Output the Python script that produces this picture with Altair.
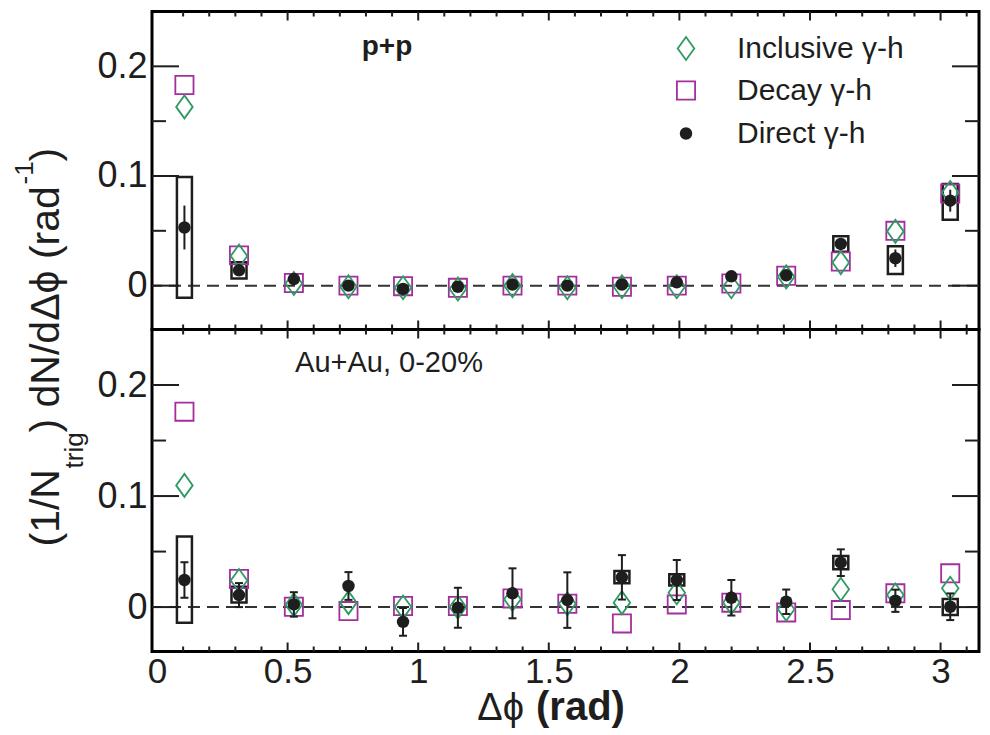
import altair as alt
import pandas as pd

# ---------------- data ----------------
dphi = [0.105, 0.314, 0.524, 0.733, 0.942, 1.152, 1.361, 1.571,
        1.780, 1.990, 2.199, 2.409, 2.618, 2.827, 3.037]

# p+p
pp_inclusive = [0.163, 0.027, 0.002, -0.001, -0.002, -0.003, 0.000, -0.002,
                -0.001, -0.001, -0.001, 0.008, 0.021, 0.0495, 0.085]
pp_decay = [0.183, 0.0276, 0.0024, 0.000, -0.0005, -0.002, 0.000, 0.000,
            -0.001, 0.000, 0.002, 0.009, 0.022, 0.050, 0.084]
pp_direct = [0.053, 0.014, 0.006, 0.000, -0.003, -0.001, 0.001, 0.000,
             0.001, 0.003, 0.0085, 0.0094, 0.038, 0.025, 0.0775]
pp_direct_err = [0.020, 0.003, 0.003, 0.003, 0.003, 0.003, 0.003, 0.003,
                 0.003, 0.003, 0.003, 0.004, 0.004, 0.008, 0.010]
pp_sys_lo = [-0.011, 0.0064, None, None, None, None, None, None,
             None, None, None, None, 0.031, 0.0106, 0.060]
pp_sys_hi = [0.099, 0.0213, None, None, None, None, None, None,
             None, None, None, None, 0.045, 0.036, 0.0926]

# Au+Au 0-20%
aa_inclusive = [0.1096, 0.024, 0.002, 0.004, 0.000, 0.000, 0.007, 0.003,
                0.004, 0.013, 0.004, -0.002, 0.016, 0.0108, 0.017]
aa_decay = [0.176, 0.0253, 0.0003, -0.0036, 0.001, 0.001, 0.0078, 0.003,
            -0.0147, 0.0024, 0.004, -0.0048, -0.0027, 0.0124, 0.0304]
aa_direct = [0.0244, 0.0108, 0.0024, 0.019, -0.0133, -0.0006, 0.0124, 0.0063,
             0.0268, 0.0244, 0.0084, 0.0048, 0.040, 0.0057, 0.0003]
aa_direct_err = [0.016, 0.0108, 0.011, 0.0125, 0.0125, 0.018, 0.0225, 0.025,
                 0.020, 0.018, 0.016, 0.011, 0.012, 0.010, 0.012]
aa_sys_lo = [-0.0142, 0.0042, None, None, None, None, None, None,
             0.0214, 0.0195, None, None, 0.034, None, -0.0072]
aa_sys_hi = [0.0635, 0.0183, None, None, None, None, None, None,
             0.0325, 0.0295, None, None, 0.046, None, 0.0072]

legend_labels = ["Inclusive γ-h", "Decay γ-h", "Direct γ-h"]
x_labels = [0, 0.5, 1, 1.5, 2, 2.5, 3]
y_labels = [0, 0.1, 0.2]
x_major_ticks = [0.5, 1.0, 1.5, 2.0, 2.5, 3.0]
x_minor_ticks = [0.1, 0.2, 0.3, 0.4, 0.6, 0.7, 0.8, 0.9, 1.1, 1.2, 1.3, 1.4,
                 1.6, 1.7, 1.8, 1.9, 2.1, 2.2, 2.3, 2.4, 2.6, 2.7, 2.8, 2.9, 3.1]
y_major_ticks = [0, 0.1, 0.2]
y_minor_ticks = [0.05, 0.15]

# ---------------- style ----------------
GREEN = "#2f9a62"
MAGENTA = "#a22f9c"
INK = "#1e1e1e"
FONT = "Liberation Sans"
DIAMOND = "M0,-1L0.72,0L0,1L-0.72,0Z"

W, H1, H2 = 827, 318, 322
XDOM = [0, 3.128]
YDOM = [-0.04, 0.25]

xs = alt.Scale(domain=XDOM, nice=False, zero=False)
ys = alt.Scale(domain=YDOM, nice=False, zero=False)

yaxis = alt.Axis(values=y_labels, format="~g", ticks=False, tickSize=0, domain=False,
                 grid=False, labelFont=FONT, labelFontSize=36, labelPadding=5,
                 labelColor=INK, title=None)
xaxis_bottom = alt.Axis(values=x_labels, format="~g", ticks=False, tickSize=0, domain=False,
                        grid=False, labelFont=FONT, labelFontSize=35, labelPadding=3,
                        labelColor=INK, labelFlush=False, title=None)


def text_layer(txt, x, y, size, angle=0, align="left", baseline="alphabetic", bold=False):
    return alt.Chart(pd.DataFrame({"t": [txt]})).mark_text(
        font=FONT, fontSize=size, angle=angle, align=align, baseline=baseline,
        fontWeight="bold" if bold else "normal", color=INK
    ).encode(x=alt.value(x), y=alt.value(y), text="t:N")


def panel(incl, decay, direct, err, sys_lo, sys_hi, H, xaxis, caps):
    X = alt.X("dphi:Q", scale=xs, axis=xaxis)

    def Y(f):
        return alt.Y(f + ":Q", scale=ys, axis=yaxis)

    df = pd.DataFrame({"dphi": dphi, "incl": incl, "decay": decay,
                       "direct": direct, "err": err})
    df["lo"] = df["direct"] - df["err"]
    df["hi"] = df["direct"] + df["err"]
    sysdf = pd.DataFrame({"dphi": dphi, "slo": sys_lo, "shi": sys_hi}).dropna()

    layers = []
    # zero line
    layers.append(alt.Chart(pd.DataFrame({"z": [0.0]})).mark_rule(
        color="#333", strokeWidth=2, strokeDash=[12, 7]).encode(y=Y("z")))
    # inner ticks, left/right
    for vals, ln in ((y_major_ticks, 27), (y_minor_ticks, 14)):
        d = pd.DataFrame({"yt": vals})
        layers.append(alt.Chart(d).mark_rule(color=INK, strokeWidth=2).encode(
            y=Y("yt"), x=alt.value(0), x2=alt.value(ln)))
        layers.append(alt.Chart(d).mark_rule(color=INK, strokeWidth=2).encode(
            y=Y("yt"), x=alt.value(W), x2=alt.value(W - ln)))
    # inner ticks, top/bottom
    for vals, ln in ((x_major_ticks, 9), (x_minor_ticks, 5)):
        d = pd.DataFrame({"dphi": vals})
        layers.append(alt.Chart(d).mark_rule(color=INK, strokeWidth=2).encode(
            x=X, y=alt.value(0), y2=alt.value(ln)))
        layers.append(alt.Chart(d).mark_rule(color=INK, strokeWidth=2).encode(
            x=X, y=alt.value(H), y2=alt.value(H - ln)))
    # systematic boxes
    layers.append(alt.Chart(sysdf).mark_bar(size=15, fill="white", fillOpacity=0,
                                            stroke=INK, strokeWidth=2.5).encode(
        x=X, y=Y("slo"), y2="shi:Q"))
    # decay squares
    layers.append(alt.Chart(df).mark_point(shape="square", size=330, filled=False,
                                           color=MAGENTA, strokeWidth=1.8, opacity=1).encode(
        x=X, y=Y("decay")))
    # inclusive diamonds
    layers.append(alt.Chart(df).mark_point(shape=DIAMOND, size=529, filled=False,
                                           color=GREEN, strokeWidth=1.8, opacity=1).encode(
        x=X, y=Y("incl")))
    # error bars
    layers.append(alt.Chart(df).mark_rule(color=INK, strokeWidth=2).encode(
        x=X, y=Y("lo"), y2="hi:Q"))
    if caps:
        for f in ("lo", "hi"):
            layers.append(alt.Chart(df).mark_tick(orient="horizontal", size=8, thickness=2,
                                                  color=INK, opacity=1).encode(x=X, y=Y(f)))
    # direct circles
    layers.append(alt.Chart(df).mark_point(shape="circle", size=155, filled=True,
                                           color=INK, opacity=1).encode(
        x=X, y=Y("direct")))
    return layers


top_layers = panel(pp_inclusive, pp_decay, pp_direct, pp_direct_err,
                   pp_sys_lo, pp_sys_hi, H1, None, False)
top_layers.append(text_layer("p+p", 235, 43, 28, align="center", bold=True))
# legend
legend_y = [37, 79, 122]
top_layers.append(alt.Chart(pd.DataFrame({"a": [0]})).mark_point(
    shape=DIAMOND, size=529, filled=False, color=GREEN, strokeWidth=1.8, opacity=1).encode(
    x=alt.value(534), y=alt.value(legend_y[0])))
top_layers.append(alt.Chart(pd.DataFrame({"a": [0]})).mark_point(
    shape="square", size=330, filled=False, color=MAGENTA, strokeWidth=1.8, opacity=1).encode(
    x=alt.value(534), y=alt.value(legend_y[1])))
top_layers.append(alt.Chart(pd.DataFrame({"a": [0]})).mark_point(
    shape="circle", size=155, filled=True, color=INK, opacity=1).encode(
    x=alt.value(534), y=alt.value(legend_y[2])))
for lab, ly in zip(legend_labels, legend_y):
    top_layers.append(text_layer(lab, 585, ly, 30, baseline="middle"))
# y-axis title pieces (rotated)
top_layers.append(text_layer("(1/N", -93, 535, 41, angle=270))
top_layers.append(text_layer("trig", -69, 457, 26, angle=270))
top_layers.append(text_layer(") dN/dΔϕ (rad", -93, 421, 41, angle=270))
top_layers.append(text_layer("-1", -119, 173, 26, angle=270))
top_layers.append(text_layer(")", -93, 150, 41, angle=270))

bottom_layers = panel(aa_inclusive, aa_decay, aa_direct, aa_direct_err,
                      aa_sys_lo, aa_sys_hi, H2, xaxis_bottom, True)
bottom_layers.append(text_layer("Au+Au, 0-20%", 237, 42, 29, align="center"))
bottom_layers.append(text_layer("Δϕ", 372, 390, 38, align="right"))
bottom_layers.append(text_layer("(rad)", 384, 390, 40, bold=True))

top = alt.layer(*top_layers).properties(width=W, height=H1)
bottom = alt.layer(*bottom_layers).properties(width=W, height=H2)

chart = alt.vconcat(top, bottom, spacing=0, bounds="flush").properties(
    padding={"left": 2, "top": 0.5, "right": 0, "bottom": 0},
    background="white",
).configure_view(stroke="black", strokeWidth=3)

chart.save("out.html", embed_options={"renderer": "svg", "actions": False})
